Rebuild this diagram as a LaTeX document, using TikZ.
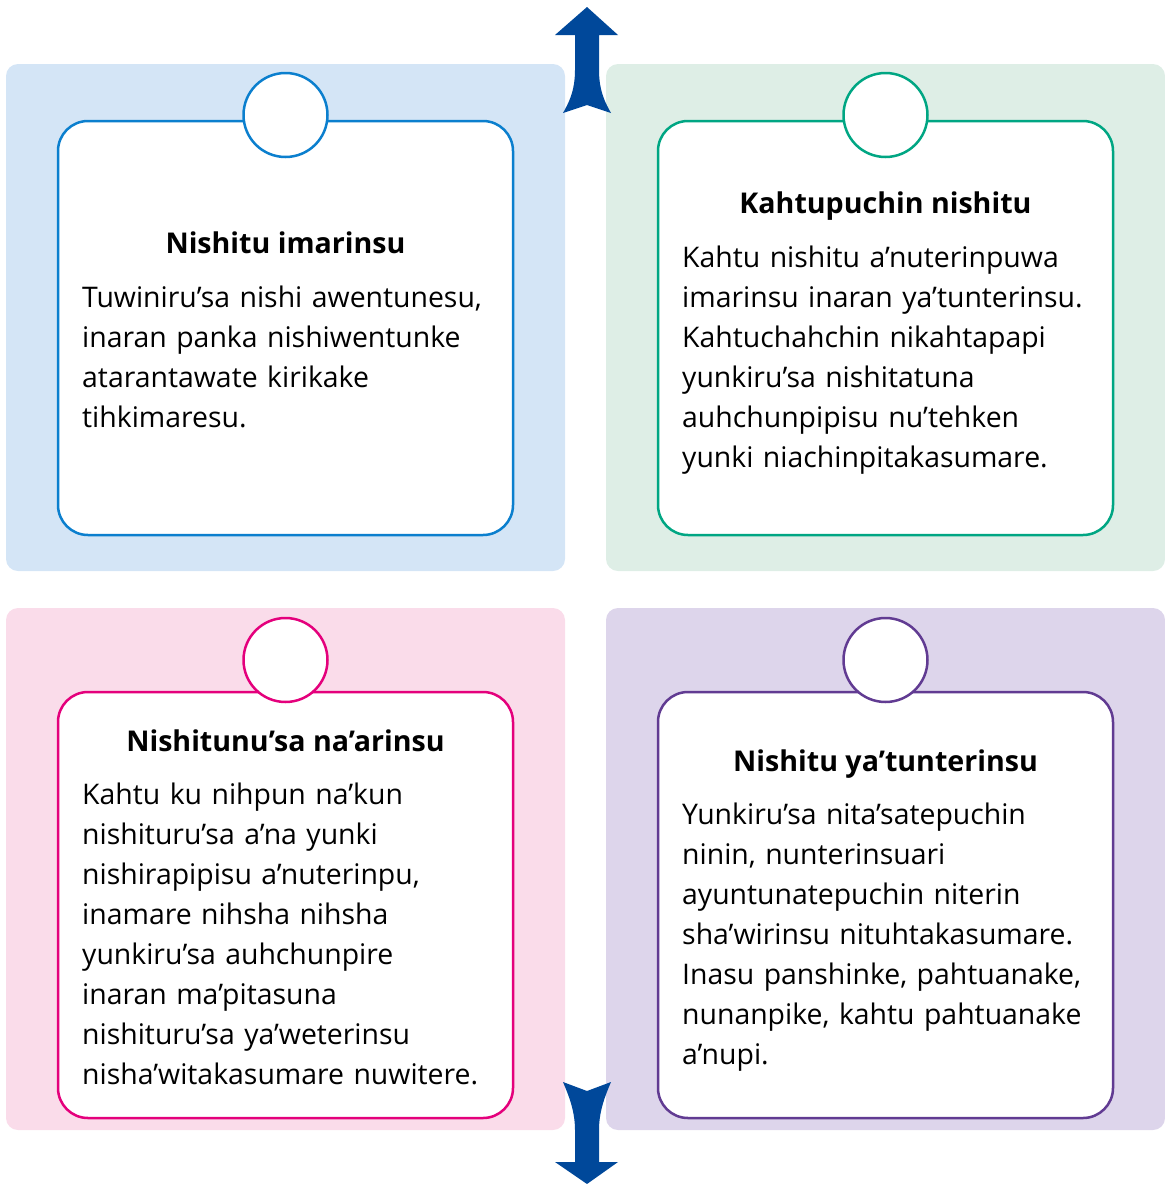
\documentclass[tikz,border=0pt]{standalone}
\usepackage{fontspec}
\setmainfont{Open Sans}
\definecolor{bluebg}{HTML}{D4E5F6}
\definecolor{bluedk}{HTML}{0B7FCE}
\definecolor{greenbg}{HTML}{DEEEE6}
\definecolor{greendk}{HTML}{00A683}
\definecolor{pinkbg}{HTML}{FADCEA}
\definecolor{pinkdk}{HTML}{E4007C}
\definecolor{purplebg}{HTML}{DDD5EB}
\definecolor{purpledk}{HTML}{613B92}
\definecolor{arrowblue}{HTML}{00489A}
\tikzset{
  panel/.style={rectangle, rounded corners=12pt, inner sep=0pt, draw=none},
  card/.style={rectangle, rounded corners=30pt, inner sep=0pt, fill=white, line width=2.5pt, minimum width=455pt},
  badge/.style={circle, inner sep=0pt, minimum size=84pt, fill=white, line width=2.5pt},
  heading/.style={anchor=base, inner sep=0pt, font=\fontsize{28.6}{40}\selectfont\bfseries},
  body/.style={anchor=base west, inner sep=0pt, text width=440pt, align=left, font=\fontsize{28.4}{40}\selectfont},
}
\begin{document}
\begin{tikzpicture}[x=1pt,y=-1pt]
\useasboundingbox (0,0) rectangle (1165,1184);
% panels
\node[panel, fill=bluebg, minimum width=559pt, minimum height=507pt] (p1) at (285.5,317.5) {};
\node[panel, fill=greenbg, minimum width=559pt, minimum height=507pt] (p2) at (885.5,317.5) {};
\node[panel, fill=pinkbg, minimum width=559pt, minimum height=522pt] (p3) at (285.5,869) {};
\node[panel, fill=purplebg, minimum width=559pt, minimum height=522pt] (p4) at (885.5,869) {};
% cards
\node[card, draw=bluedk, minimum height=414pt] (c1) at (285.5,328) {};
\node[card, draw=greendk, minimum height=414pt] (c2) at (885.5,328) {};
\node[card, draw=pinkdk, minimum height=426pt] (c3) at (285.5,905) {};
\node[card, draw=purpledk, minimum height=426pt] (c4) at (885.5,905) {};
% badges
\node[badge, draw=bluedk] (b1) at (285.5,115) {};
\node[badge, draw=greendk] (b2) at (885.5,115) {};
\node[badge, draw=pinkdk] (b3) at (285.5,660) {};
\node[badge, draw=purpledk] (b4) at (885.5,660) {};
% arrows
\fill[arrowblue] (587,7) -- (618,35) -- (599,35) -- (599,70)
  .. controls (599,92) and (606,104) .. (611,113) -- (587,105) -- (563,113)
  .. controls (568,104) and (575,92) .. (575,70) -- (575,35) -- (555,35) -- cycle;
\fill[arrowblue] (587,1184) -- (618,1162) -- (599,1162) -- (599,1130)
  .. controls (599,1110) and (606,1094) .. (611,1082) -- (587,1091) -- (563,1082)
  .. controls (568,1094) and (575,1110) .. (575,1130) -- (575,1162) -- (555,1162) -- cycle;
% texts
\node[heading] (h1) at (285.5,253) {Nishitu imarinsu};
\node[body] (t1) at (82,307) {Tuwiniru’sa nishi awentunesu,\\inaran panka nishiwentunke\\atarantawate kirikake\\tihkimaresu.};
\node[heading] (h2) at (885.5,213) {Kahtupuchin nishitu};
\node[body] (t2) at (682,267) {Kahtu nishitu a’nuterinpuwa\\imarinsu inaran ya’tunterinsu.\\Kahtuchahchin nikahtapapi\\yunkiru’sa nishitatuna\\auhchunpipisu nu’tehken\\yunki niachinpitakasumare.};
\node[heading] (h3) at (285.5,751) {Nishitunu’sa na’arinsu};
\node[body] (t3) at (82,804) {Kahtu ku nihpun na’kun\\nishituru’sa a’na yunki\\nishirapipisu a’nuterinpu,\\inamare nihsha nihsha\\yunkiru’sa auhchunpire\\inaran ma’pitasuna\\nishituru’sa ya’weterinsu\\nisha’witakasumare nuwitere.};
\node[heading] (h4) at (885.5,771) {Nishitu ya’tunterinsu};
\node[body] (t4) at (682,824) {Yunkiru’sa nita’satepuchin\\ninin, nunterinsuari\\ayuntunatepuchin niterin\\sha’wirinsu nituhtakasumare.\\Inasu panshinke, pahtuanake,\\nunanpike, kahtu pahtuanake\\a’nupi.};
\end{tikzpicture}
\end{document}
